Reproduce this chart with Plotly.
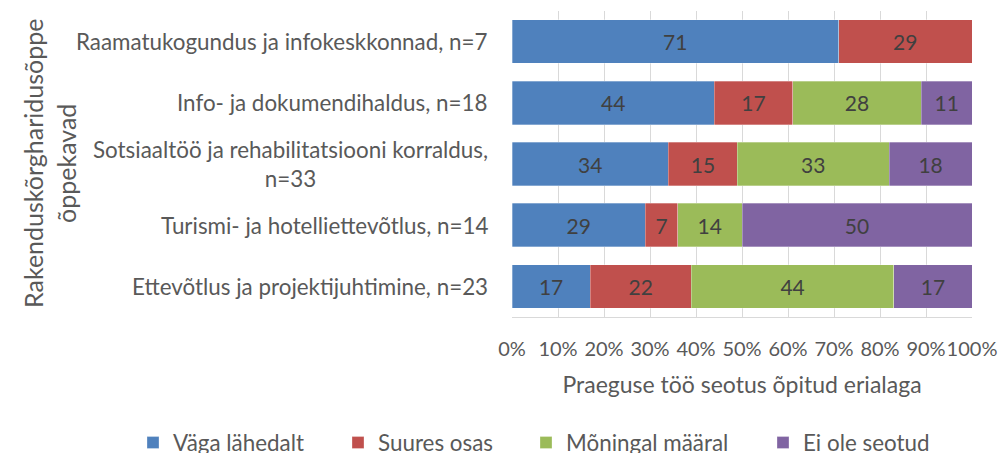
import plotly.graph_objects as go

categories = [
    "Raamatukogundus ja infokeskkonnad, n=7",
    "Info- ja dokumendihaldus, n=18",
    "Sotsiaaltöö ja rehabilitatsiooni korraldus,<br>n=33",
    "Turismi- ja hotelliettevõtlus, n=14",
    "Ettevõtlus ja projektijuhtimine, n=23",
]
series_names = ["Väga lähedalt", "Suures osas", "Mõningal määral", "Ei ole seotud"]
vaga_lahedalt = [71, 44, 34, 29, 17]
suures_osas = [29, 17, 15, 7, 22]
moningal_maaral = [0, 28, 33, 14, 44]
ei_ole_seotud = [0, 11, 18, 50, 17]
x_tick_vals = [0, 10, 20, 30, 40, 50, 60, 70, 80, 90, 100]
x_tick_text = ["0%", "10%", "20%", "30%", "40%", "50%", "60%", "70%", "80%", "90%", "100%"]
x_title = "Praeguse töö seotus õpitud erialaga"
y_title = "Rakenduskõrgharidusõppe<br>õppekavad"

colors = ["#4F81BD", "#C0504D", "#9BBB59", "#8064A2"]
FONT = "Lato"
TXT = "#595959"
FS = 22.4
W, H = 1002, 453
PL, PR, PT, PB = 512, 972, 11, 317  # plot area in pixels

legend_ids = ["legend", "legend2", "legend3", "legend4"]
legend_square_left = [147, 352, 540, 777]

fig = go.Figure()
for name, vals, col, lid in zip(series_names,
                                [vaga_lahedalt, suures_osas, moningal_maaral, ei_ole_seotud],
                                colors, legend_ids):
    fig.add_trace(go.Bar(
        y=categories, x=vals, name=name, orientation="h",
        marker=dict(color=col, line=dict(color="rgba(255,255,255,0.6)", width=0.5)),
        text=[str(v) if v else "" for v in vals],
        textposition="inside", insidetextanchor="middle", textangle=0,
        constraintext="none",
        textfont=dict(family=FONT, size=21, color="#404040"),
        hoverinfo="x+y+name", legend=lid,
    ))

# category labels (centered multi-line like the reference)
for c in categories:
    fig.add_annotation(
        x=0, xref="paper", y=c, yref="y", text=c, showarrow=False,
        xanchor="right", xshift=-22, align="center",
        font=dict(family=FONT, size=FS, color=TXT),
    )

fig.add_annotation(
    x=0, xref="paper", xshift=49 - PL, y=0.5, yref="paper",
    text=y_title, showarrow=False,
    textangle=-90, xanchor="center", yanchor="middle",
    font=dict(family=FONT, size=25, color=TXT), align="center",
)

legend_common = dict(
    orientation="h", xref="container", yref="container",
    xanchor="left", y=1 - 443 / H, yanchor="middle",
    font=dict(family=FONT, size=FS, color=TXT),
    itemclick=False, bgcolor="rgba(0,0,0,0)",
)
legends = {}
for lid, sq in zip(legend_ids, legend_square_left):
    legends[lid] = dict(legend_common, x=(sq - 14) / W)

fig.update_layout(
    barmode="stack",
    bargap=0.29,
    width=W, height=H,
    margin=dict(l=PL, r=W - PR, t=PT, b=H - PB, autoexpand=False),
    paper_bgcolor="white", plot_bgcolor="white",
    font=dict(family=FONT, size=FS, color=TXT),
    showlegend=True,
    xaxis=dict(
        range=[0, 100], tickvals=x_tick_vals, ticktext=x_tick_text,
        showgrid=True, gridcolor="#D9D9D9", gridwidth=1,
        showline=True, linecolor="#D9D9D9", linewidth=1,
        zeroline=False, ticks="", ticklabelstandoff=14, tickangle=0,
        tickfont=dict(family=FONT, size=20, color=TXT),
        title=dict(text=x_title, standoff=17,
                   font=dict(family=FONT, size=23, color=TXT)),
        fixedrange=True,
    ),
    yaxis=dict(
        categoryorder="array", categoryarray=categories,
        autorange="reversed", showticklabels=False, ticks="",
        showgrid=False, zeroline=False, fixedrange=True,
    ),
    **legends,
)

fig.write_html("out.html", config={"displayModeBar": False},
               post_script="document.body.style.margin='0';")
